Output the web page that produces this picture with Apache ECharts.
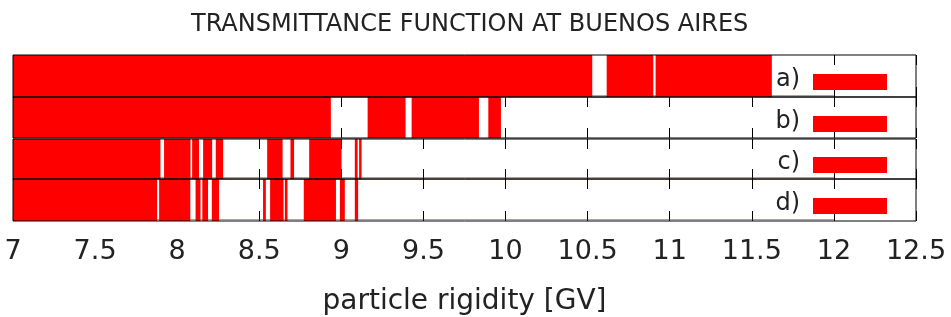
<!DOCTYPE html>
<html><head><meta charset="utf-8">
<script src="https://cdn.jsdelivr.net/npm/echarts@6/dist/echarts.min.js"></script>
<style>html,body{margin:0;padding:0;background:#fff}#c{width:951px;height:317px}</style>
</head><body><div id="c"></div>
<script>
const chartTitle = 'TRANSMITTANCE FUNCTION AT BUENOS AIRES';
const xName = 'particle rigidity [GV]';
const xMin = 7, xMax = 12.5, xStep = 0.5;
const stripLabels = ['a)', 'b)', 'c)', 'd)'];
// allowed rigidity bands [start, end] in GV
const bandsA = [[7, 10.528], [10.616, 10.900], [10.914, 11.622]];
const bandsB = [[7, 8.936], [9.160, 9.391], [9.428, 9.838], [9.895, 9.972]];
const bandsC = [[7, 7.898], [7.920, 8.081], [8.091, 8.133], [8.158, 8.213], [8.235, 8.280],
                [8.548, 8.642], [8.690, 8.712], [8.804, 9.001], [9.082, 9.099], [9.108, 9.123]];
const bandsD = [[7, 7.878], [7.890, 8.080], [8.112, 8.142], [8.153, 8.188], [8.211, 8.255],
                [8.523, 8.540], [8.566, 8.648], [8.656, 8.672], [8.771, 8.967], [8.991, 9.021], [9.082, 9.102]];
// faint red baseline drawn by each strip's curve (none visible on b)
const baselineRanges = [[[7, 12]], [], [[7, 12]], [[7, 12]]];

const allBands = [bandsA, bandsB, bandsC, bandsD];
const RED = '#ff0000';
const FONT = 'DejaVu Sans';
const tops = [55, 97, 139, 179];
const heights = [42, 41, 40, 42.5];
const L = 13, R = 35;

const grids = [], xAxes = [], yAxes = [], series = [], graphics = [];
allBands.forEach((bands, i) => {
  grids.push({left: L, right: R, top: tops[i], height: heights[i], show: true,
    borderColor: '#000', borderWidth: 1, backgroundColor: 'transparent', z: 5});
  const last = i === allBands.length - 1;
  ['bottom', 'top'].forEach(pos => {
    xAxes.push({
      type: 'value', gridIndex: i, position: pos, min: xMin, max: xMax, interval: xStep,
      axisLine: {show: false},
      axisTick: {show: true, inside: true, length: 10, lineStyle: {color: '#000', width: 1}},
      splitLine: {show: false},
      axisLabel: {show: last && pos === 'bottom', color: '#222', fontFamily: FONT, fontSize: 27, margin: 17,
        formatter: v => String(v)},
      name: (last && pos === 'bottom') ? xName : '',
      nameLocation: 'middle', nameGap: 67,
      nameTextStyle: {color: '#222', fontFamily: FONT, fontSize: 28}
    });
  });
  yAxes.push({type: 'value', gridIndex: i, min: 0, max: 1, show: false});
  series.push({
    type: 'custom', xAxisIndex: 2 * i, yAxisIndex: i, z: 1,
    data: baselineRanges[i], encode: {x: [0, 1]},
    renderItem: (params, api) => {
      const p0 = api.coord([api.value(0), 0]);
      const p1 = api.coord([api.value(1), 0]);
      return {type: 'line', shape: {x1: p0[0], y1: p0[1] - 1.5, x2: p1[0], y2: p1[1] - 1.5},
        style: {stroke: 'rgba(255,0,0,0.5)', lineWidth: 1}};
    }
  });
  series.push({
    type: 'custom', xAxisIndex: 2 * i, yAxisIndex: i, z: 2,
    data: bands, encode: {x: [0, 1]},
    renderItem: (params, api) => {
      const p0 = api.coord([api.value(0), 0]);
      const p1 = api.coord([api.value(1), 1]);
      return {type: 'rect', shape: {x: p0[0], y: p1[1], width: p1[0] - p0[0], height: p0[1] - p1[1]},
        style: {fill: RED}};
    }
  });
  const cy = tops[i] + 27 - (i === 2 ? 1 : 0);
  graphics.push({type: 'text', right: 951 - 800, top: cy - 14, z: 10,
    style: {text: stripLabels[i], font: '24px "DejaVu Sans"', fill: '#222', textAlign: 'right'}});
  graphics.push({type: 'rect', left: 813, top: cy - 8, z: 10,
    shape: {width: 74, height: 16}, style: {fill: RED}});
});

const chart = echarts.init(document.getElementById('c'), null, {renderer: 'canvas'});
chart.setOption({
  animation: false,
  backgroundColor: '#fff',
  title: {text: chartTitle, left: 186, top: 8,
    textStyle: {fontFamily: FONT, fontSize: 24, fontWeight: 'normal', color: '#222'}},
  grid: grids, xAxis: xAxes, yAxis: yAxes, series: series, graphic: graphics
});
</script></body></html>
